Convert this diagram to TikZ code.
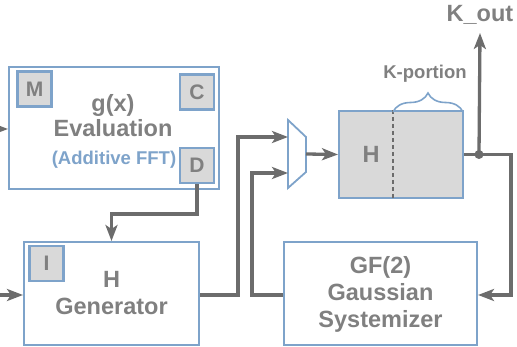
\documentclass[tikz,border=0pt]{standalone}
\usepackage{fontspec}
\setmainfont{Liberation Sans}
\usetikzlibrary{arrows.meta,decorations.pathreplacing}
\definecolor{boxblue}{RGB}{126,163,202}
\definecolor{txtgrey}{RGB}{128,128,128}
\definecolor{wiregrey}{RGB}{108,108,108}
\definecolor{regfill}{RGB}{217,217,217}
\tikzset{
  block/.style={draw=boxblue, line width=2pt, fill=white, text=txtgrey,
    font=\fontsize{23.5}{27}\selectfont\bfseries, align=center, inner sep=0pt},
  port/.style={draw=boxblue, line width=2.2pt, fill=regfill, text=txtgrey,
    font=\fontsize{21}{24}\selectfont\bfseries, inner sep=0pt,
    minimum width=34pt, minimum height=35pt},
  label/.style={text=txtgrey, font=\fontsize{23.5}{27}\selectfont\bfseries, inner sep=0pt},
  wire/.style={draw=wiregrey, line width=3.3pt},
  wirearrow/.style={wire, -{Stealth[length=16pt,width=12pt,inset=4pt]}},
}
\begin{document}
\begin{tikzpicture}[x=1pt, y=-1pt]
\useasboundingbox (0,0) rectangle (517,347);

\node (eval) [block, minimum width=210pt, minimum height=122pt] at (114,128) {};
\node (evaltop) [label, anchor=base] at (113,112) {g(x)};
\node (evalmid) [label, anchor=base] at (113,137) {Evaluation};
\node (evalfft) [label, anchor=base, text=boxblue, font=\fontsize{18.5}{22}\selectfont\bfseries] at (114,165) {(Additive FFT)};
\node (M) [port] at (34.5,89) {M};
\node (C) [port] at (197,92) {C};
\node (D) [port] at (197,165.5) {D};

\node (hgen) [block, minimum width=175pt, minimum height=103pt] at (111.5,293.5) {H\\Generator};
\node (I) [port] at (46.5,263.5) {I};

\node (gf) [block, minimum width=193pt, minimum height=103pt] at (380.5,294) {GF(2)\\Gaussian\\Systemizer};

\node (H) [block, fill=regfill, minimum width=124pt, minimum height=87pt] at (401,154.5) {};
\node (Hlabel) [label] at (371,154.5) {H};
\draw [wiregrey, line width=1.8pt, dash pattern=on 4pt off 3pt] (H.north -| 393,0) -- (H.south -| 393,0);
\draw [boxblue, line width=1.6pt, decorate, decoration={brace, amplitude=19pt}] (393,112) -- (463,112);
\node (kportion) [label, font=\fontsize{18.5}{22}\selectfont\bfseries] at (425,74) {K-portion};

\coordinate (muxin1) at (288,137);
\coordinate (muxin2) at (288,173);
\coordinate (muxout) at (306,154);
\draw [boxblue, line width=1.8pt, fill=white] (288,120) -- (306,137) -- (306,172) -- (288,188) -- cycle;

\coordinate (evalin) at (0,129);
\coordinate (hgenin) at (0,295);
\draw [wirearrow] (evalin) -- (eval.west |- evalin);
\draw [wirearrow] (hgenin) -- (hgen.west |- hgenin);
\draw [wirearrow] (D.south) -- ++(0,30) -| (hgen.north);
\draw [wirearrow] (hgen.east |- hgenin) -- ++(38,0) |- (muxin1);
\draw [wirearrow] (gf.west |- hgenin) -- ++(-31,0) |- (muxin2);
\draw [wirearrow] (muxout) -- (H.west);

\coordinate (tap) at (479,154.5);
\draw [wirearrow] (H.east) -- ++(47,0) |- (gf.east |- hgenin);
\fill [wiregrey] (tap) circle (4.5pt);
\node (kout) [label] at (480,15) {K\_out};
\draw [wirearrow] (tap) -- (kout.south |- 0,33);
\end{tikzpicture}
\end{document}
